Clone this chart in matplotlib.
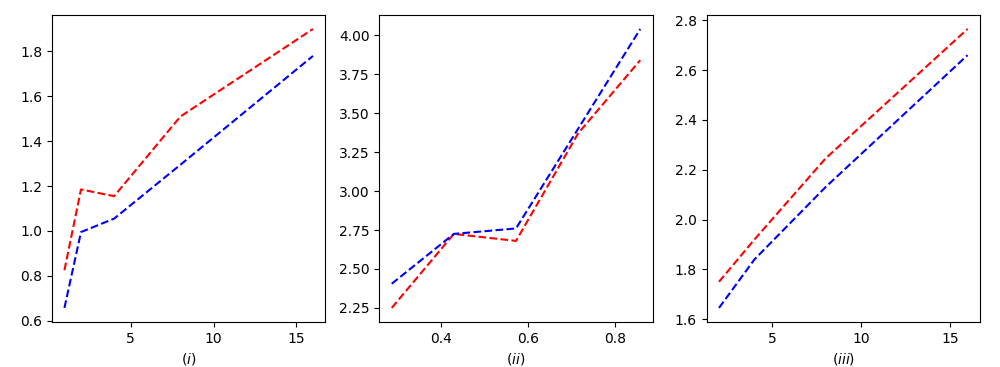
import numpy as np
import matplotlib.pyplot as plt

# panel (i)
x1 = [1, 2, 4, 8, 16]
red1 = [0.825, 1.185, 1.155, 1.51, 1.90]
blue1 = [0.657, 0.995, 1.055, 1.295, 1.78]

# panel (ii)
x2 = [2/7, 3/7, 4/7, 5/7, 6/7]
red2 = [2.25, 2.725, 2.68, 3.37, 3.84]
blue2 = [2.405, 2.725, 2.76, 3.40, 4.04]

# panel (iii)
x3 = [2, 4, 8, 16]
red3 = [1.75, 1.92, 2.245, 2.765]
blue3 = [1.645, 1.84, 2.13, 2.66]

labels = ["$(i)$", "$(ii)$", "$(iii)$"]

fig, axs = plt.subplots(1, 3, figsize=(10, 3.67))
data = [(x1, red1, blue1), (x2, red2, blue2), (x3, red3, blue3)]
for ax, (x, r, b), lab in zip(axs, data, labels):
    ax.plot(x, r, "r--")
    ax.plot(x, b, "b--")
    ax.set_xlabel(lab)

plt.subplots_adjust(left=0.052, right=0.98, top=0.959, bottom=0.123, wspace=0.197)
plt.savefig("out.png", dpi=100)
